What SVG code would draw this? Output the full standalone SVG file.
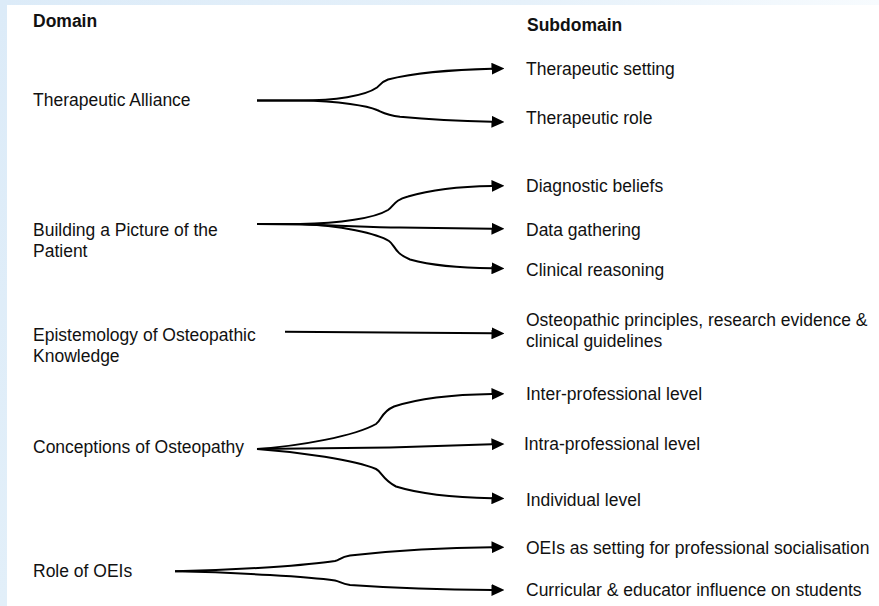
<svg xmlns="http://www.w3.org/2000/svg" width="879" height="606" viewBox="0 0 879 606">
<defs>
<linearGradient id="topg" x1="0" y1="0" x2="1" y2="0">
<stop offset="0" stop-color="#dcebf8"/>
<stop offset="0.6" stop-color="#e6f1fa"/>
<stop offset="1" stop-color="#f7fbfe"/>
</linearGradient>
<linearGradient id="leftg" x1="0" y1="0" x2="0" y2="1">
<stop offset="0" stop-color="#dcebf8"/>
<stop offset="1" stop-color="#e2eff9"/>
</linearGradient>
<marker id="ah" viewBox="0 0 13 12" refX="0.5" refY="6" markerWidth="13" markerHeight="12" markerUnits="userSpaceOnUse" orient="auto">
<path d="M0,0 L13,6 L0,12 z" fill="#000"/>
</marker>
</defs>
<style>
text{font-family:"Liberation Sans",Arial,sans-serif;font-size:17.5px;fill:#111}
.h{font-weight:bold}
.c{fill:none;stroke:#000;stroke-width:2;marker-end:url(#ah)}
</style>
<rect x="0" y="0" width="879" height="606" fill="#fff"/>
<rect x="0" y="0" width="879" height="5" fill="url(#topg)"/>
<rect x="0" y="0" width="7" height="606" fill="url(#leftg)"/>

<g id="headers">
<text class="h" x="33" y="27">Domain</text>
<text class="h" x="527" y="31">Subdomain</text>
</g>

<g id="domain-therapeutic-alliance"><text x="33" y="106">Therapeutic Alliance</text></g>
<g id="domain-building-picture"><text x="33" y="236">Building a Picture of the</text><text x="33" y="257">Patient</text></g>
<g id="domain-epistemology"><text x="33" y="341">Epistemology of Osteopathic</text><text x="33" y="362">Knowledge</text></g>
<g id="domain-conceptions"><text x="33" y="453">Conceptions of Osteopathy</text></g>
<g id="domain-role-oeis"><text x="33" y="577">Role of OEIs</text></g>

<g id="sub-therapeutic-setting"><text x="526" y="75">Therapeutic setting</text></g>
<g id="sub-therapeutic-role"><text x="526" y="124">Therapeutic role</text></g>
<g id="sub-diagnostic-beliefs"><text x="526" y="192">Diagnostic beliefs</text></g>
<g id="sub-data-gathering"><text x="526" y="236">Data gathering</text></g>
<g id="sub-clinical-reasoning"><text x="526" y="276">Clinical reasoning</text></g>
<g id="sub-osteopathic-principles"><text x="526" y="326">Osteopathic principles, research evidence &amp;</text><text x="526" y="347">clinical guidelines</text></g>
<g id="sub-inter-professional"><text x="526" y="400">Inter-professional level</text></g>
<g id="sub-intra-professional"><text x="524" y="450">Intra-professional level</text></g>
<g id="sub-individual"><text x="526" y="506">Individual level</text></g>
<g id="sub-oeis-setting"><text x="526" y="554">OEIs as setting for professional socialisation</text></g>
<g id="sub-curricular"><text x="526" y="596">Curricular &amp; educator influence on students</text></g>

<g id="connectors">
<path class="c" d="M257,100.5 H300 C335,100.5 365,96 377,87.5 C380,85 382,81.5 388,79.5 C410,74 450,69.5 492,68.7"/>
<path class="c" d="M257,100.5 H300 C340,101 368,106 377,110 C382,112 386,115 400,116.7 C430,119.5 460,121 492,121.7"/>

<path class="c" d="M257,224 H300 C340,223.5 375,218 388,210 C394,206 394,200 408,196.5 C430,190 460,186.5 492,186"/>
<path class="c" d="M257,224 C330,224 360,227.3 400,227.5 L492,228.7"/>
<path class="c" d="M257,224 H300 C340,225 378,234 389,241 C395,245 394,253 410,259.5 C430,265 460,268 492,268.3"/>

<path class="c" d="M285,331.7 L492,333.3"/>

<path class="c" d="M257,449 C300,446 355,436 376,424 C382,420 381,412 394,406.5 C420,398 455,394.5 492,394"/>
<path class="c" d="M257,449 C330,448.5 360,447.7 390,447.5 L492,444.3"/>
<path class="c" d="M257,449 C300,452 355,460 376,469 C382,472 382,479 396,486.5 C420,494 455,497.5 492,498.3"/>

<path class="c" d="M175,571.3 C240,570 310,565 335,561 C340,560 340,557 350,555.5 C400,550 450,547.5 492,547.3"/>
<path class="c" d="M175,571.3 C240,572.5 310,577 335,580.5 C340,581.5 341,583.5 350,585 C400,588.5 450,589.8 492,590"/>
</g>
</svg>
